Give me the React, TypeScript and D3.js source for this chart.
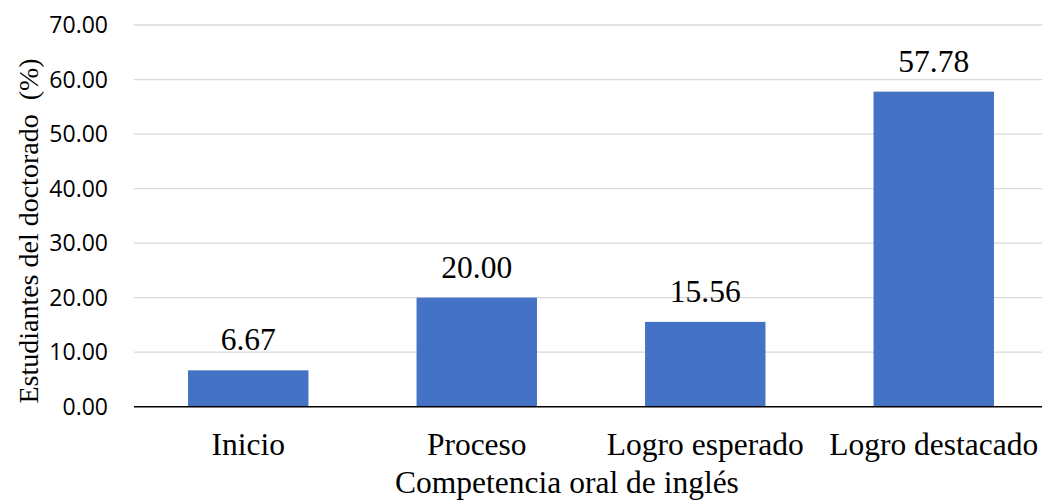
import React from "react";
import * as d3 from "d3";

const categories = ["Inicio", "Proceso", "Logro esperado", "Logro destacado"];
const values = [6.67, 20.0, 15.56, 57.78];
const yTicks = [0, 10, 20, 30, 40, 50, 60, 70];
const yTitle = "Estudiantes del doctorado\u00a0\u00a0(%)";
const xTitle = "Competencia oral de inglés";

const W = 1042;
const H = 503;

export default function App() {
  const x = d3
    .scaleBand<string>()
    .domain(categories)
    .range([134, 1048])
    .paddingInner(0.473)
    .paddingOuter(0.2365);
  const y = d3.scaleLinear().domain([0, 70]).range([406.7, 25]);
  const serif = "'Liberation Serif', 'Times New Roman', serif";
  const sans = "'Open Sans', 'Noto Sans', sans-serif";

  return (
    <svg
      width={W}
      height={H}
      style={{ position: "absolute", left: 0, top: 0, background: "#fff" }}
    >
      {yTicks.map((t) =>
        t === 0 ? null : (
          <line
            key={"g" + t}
            x1={134}
            x2={W}
            y1={y(t)}
            y2={y(t)}
            stroke="#D9D9D9"
            strokeWidth={1.3}
          />
        )
      )}
      {yTicks.map((t) => (
        <text
          key={"t" + t}
          x={108}
          y={y(t) + 8.3}
          textAnchor="end"
          fontFamily={sans}
          fontSize={23}
          fill="#000"
        >
          {d3.format(".2f")(t)}
        </text>
      ))}
      {categories.map((c, i) => (
        <rect
          key={"b" + c}
          x={x(c)}
          y={y(values[i])}
          width={x.bandwidth()}
          height={y(0) - y(values[i])}
          fill="#4472C4"
        />
      ))}
      <line x1={134} x2={W} y1={y(0)} y2={y(0)} stroke="#000" strokeWidth={1.5} />
      {categories.map((c, i) => (
        <text
          key={"v" + c}
          x={(x(c) as number) + x.bandwidth() / 2}
          y={y(values[i]) - 20}
          textAnchor="middle"
          fontFamily={serif}
          fontSize={31.5}
          fill="#000"
        >
          {d3.format(".2f")(values[i])}
        </text>
      ))}
      {categories.map((c) => (
        <text
          key={"c" + c}
          x={(x(c) as number) + x.bandwidth() / 2}
          y={455}
          textAnchor="middle"
          fontFamily={serif}
          fontSize={31.5}
          fill="#000"
        >
          {c}
        </text>
      ))}
      <text
        x={567}
        y={493}
        textAnchor="middle"
        fontFamily={serif}
        fontSize={31.5}
        fill="#000"
      >
        {xTitle}
      </text>
      <text
        transform={`translate(38, 231) rotate(-90)`}
        textAnchor="middle"
        fontFamily={serif}
        fontSize={28}
        fill="#000"
      >
        {yTitle}
      </text>
    </svg>
  );
}
